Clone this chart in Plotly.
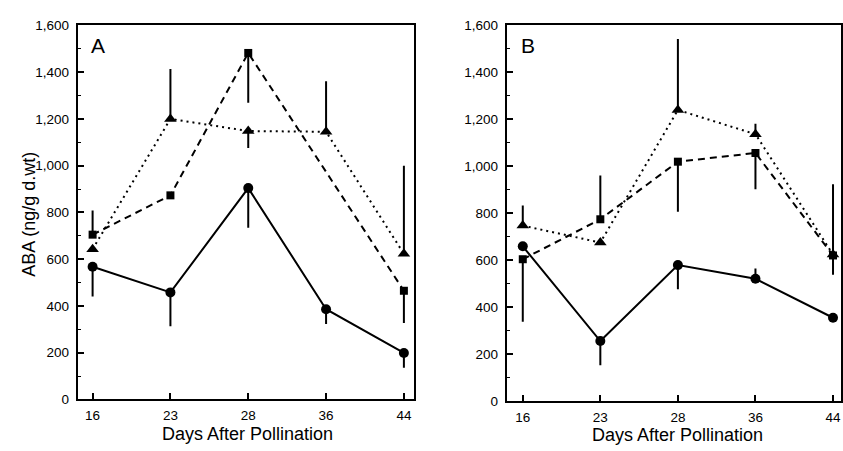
import plotly.graph_objects as go

days = ["16", "23", "28", "36", "44"]
y_ticks = [0, 200, 400, 600, 800, 1000, 1200, 1400, 1600]

# Panel A
a_circle = [568, 458, 904, 386, 199]
a_circle_err_minus = [127, 145, 170, 63, 63]
a_square_days = ["16", "23", "28", "44"]
a_square = [705, 873, 1482, 465]
a_square_err_plus = [103, 0, 0, 0]
a_square_err_minus = [0, 0, 213, 138]
a_triangle = [643, 1200, 1148, 1145, 623]
a_triangle_err_plus = [0, 213, 0, 216, 377]
a_triangle_err_minus = [0, 0, 72, 0, 0]

# Panel B
b_circle = [660, 257, 580, 522, 356]
b_circle_err_plus = [0, 0, 0, 44, 0]
b_circle_err_minus = [0, 103, 103, 0, 0]
b_square = [605, 775, 1020, 1057, 621]
b_square_err_plus = [0, 186, 0, 0, 0]
b_square_err_minus = [266, 0, 213, 154, 82]
b_triangle = [748, 676, 1240, 1137, 625]
b_triangle_err_plus = [86, 0, 302, 44, 299]
b_triangle_err_minus = [0, 0, 0, 0, 0]

BLACK = "#000000"
fig = go.Figure()


def add(x, y, ep, em, symbol, size, dash, xa, ya):
    fig.add_trace(go.Scatter(
        x=x, y=y, xaxis=xa, yaxis=ya, mode="lines+markers",
        line=dict(color=BLACK, width=2, dash=dash),
        marker=dict(symbol=symbol, size=size, color=BLACK),
        error_y=dict(type="data", symmetric=False, array=ep, arrayminus=em,
                     width=0, thickness=2, color=BLACK),
        showlegend=False, cliponaxis=False,
    ))


add(days, a_triangle, a_triangle_err_plus, a_triangle_err_minus,
    "triangle-up", 11, "2px,4px", "x", "y")
add(a_square_days, a_square, a_square_err_plus, a_square_err_minus,
    "square", 8, "7px,5px", "x", "y")
add(days, a_circle, [0] * 5, a_circle_err_minus, "circle", 10, "solid", "x", "y")

add(days, b_triangle, b_triangle_err_plus, b_triangle_err_minus,
    "triangle-up", 11, "2px,4px", "x2", "y2")
add(days, b_square, b_square_err_plus, b_square_err_minus,
    "square", 8, "7px,5px", "x2", "y2")
add(days, b_circle, b_circle_err_plus, b_circle_err_minus, "circle", 10, "solid", "x2", "y2")

W, H = 843, 451
font = dict(family="Liberation Sans, Arial, sans-serif", color=BLACK)


def px(v):
    return v / W


def py(v):
    return 1 - v / H


def xaxis(domain, rng, anchor):
    return dict(domain=domain, anchor=anchor, type="category", categoryarray=days,
                range=rng, showline=True, linecolor=BLACK, linewidth=2, mirror=True,
                ticks="inside", ticklen=6, tickwidth=1.5, tickcolor=BLACK,
                showgrid=False, zeroline=False, tickfont=dict(size=13.5, **font),
                ticklabelstandoff=2)


def yaxis(domain, anchor):
    return dict(domain=domain, anchor=anchor, range=[0, 1600],
                tickvals=y_ticks, tickformat=",d",
                showline=True, linecolor=BLACK, linewidth=2, mirror=True,
                ticks="inside", ticklen=6, tickwidth=1.5, tickcolor=BLACK,
                minor=dict(dtick=100, ticks="inside", ticklen=3, tickwidth=1, tickcolor=BLACK),
                showgrid=False, zeroline=False, tickfont=dict(size=13.5, **font),
                ticklabelstandoff=4)


fig.update_layout(
    width=W, height=H, margin=dict(l=0, r=0, t=0, b=0),
    paper_bgcolor="white", plot_bgcolor="white", font=font,
    xaxis=xaxis([px(78), px(415)], [-0.19, 4.13], "y"),
    yaxis=yaxis([py(406), py(19)], "x"),
    xaxis2=xaxis([px(508), 1.0], [-0.206, 4.103], "y2"),
    yaxis2=yaxis([py(408), py(19)], "x2"),
    annotations=[
        dict(text="A", x=px(89), y=py(40), xref="paper", yref="paper",
             xanchor="left", yanchor="middle", showarrow=False, font=dict(size=21, **font)),
        dict(text="B", x=px(520), y=py(40), xref="paper", yref="paper",
             xanchor="left", yanchor="middle", showarrow=False, font=dict(size=21, **font)),
        dict(text="Days After Pollination", x=px(248), y=py(442), xref="paper", yref="paper",
             xanchor="center", yanchor="middle", showarrow=False, font=dict(size=18, **font)),
        dict(text="Days After Pollination", x=px(679), y=py(443), xref="paper", yref="paper",
             xanchor="center", yanchor="middle", showarrow=False, font=dict(size=18, **font)),
        dict(text="ABA (ng/g d.wt)", x=px(29), y=py(214), xref="paper", yref="paper",
             xanchor="center", yanchor="middle", textangle=-90, showarrow=False,
             font=dict(size=18, **font)),
    ],
)

fig.write_html("out.html", config={"displayModeBar": False},
               post_script="document.body.style.margin='0px';document.body.style.overflow='hidden';")
